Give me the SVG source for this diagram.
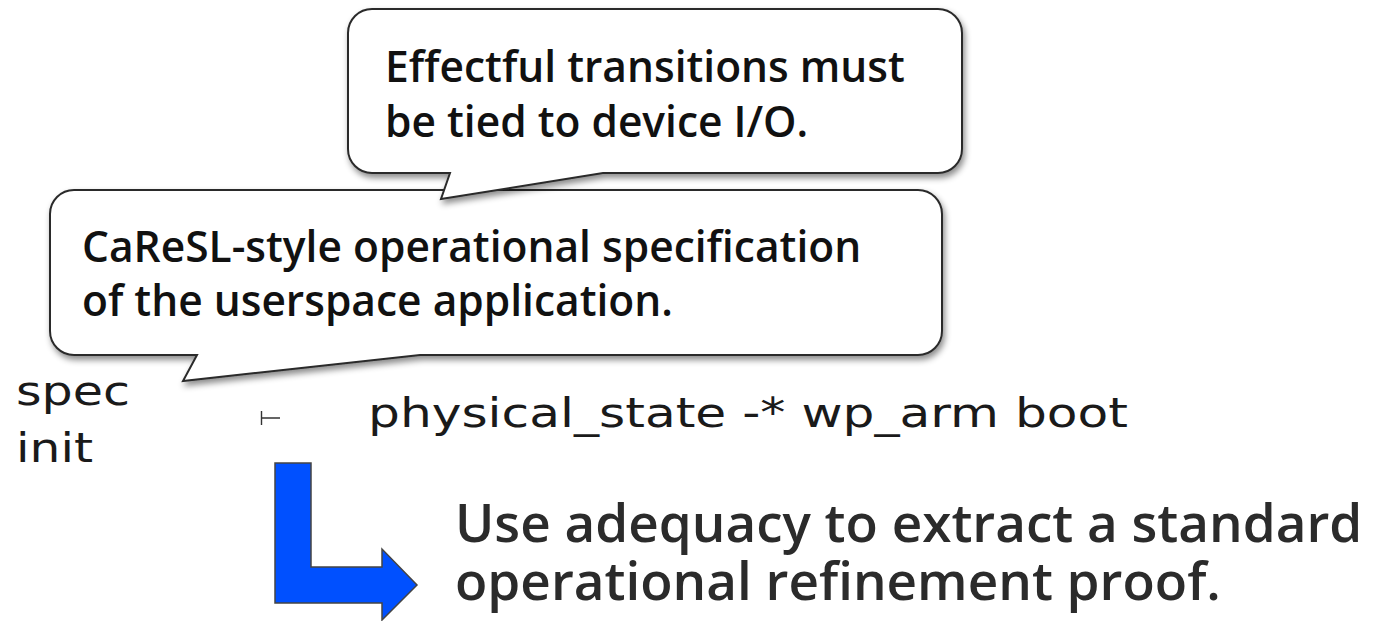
<svg xmlns="http://www.w3.org/2000/svg" width="1377" height="621" viewBox="0 0 1377 621">
<defs>
<filter id="sh" x="-10%" y="-10%" width="120%" height="130%">
<feDropShadow dx="2" dy="4" stdDeviation="3" flood-color="#000" flood-opacity="0.45"/>
</filter>
<style>
.callout{fill:#fff;stroke:#2a2a2a;stroke-width:2;filter:url(#sh)}
.ct{font-family:"Open Sans","Noto Sans",sans-serif;font-weight:600;font-size:42.5px;fill:#111}
.mono{font-family:"DejaVu Sans",sans-serif;font-size:40px;fill:#1a1a1a}
.big{font-family:"Open Sans","Noto Sans",sans-serif;font-weight:600;font-size:53px;fill:#2b2b2b}
</style>
</defs>
<g id="callout-caresl">
<path class="callout" d="M74,190 H918 A24,24 0 0 1 942,214 V331 A24,24 0 0 1 918,355 H420 L183,381 L197,355 H74 A24,24 0 0 1 50,331 V214 A24,24 0 0 1 74,190 Z"/>
<text class="ct" x="82" y="262">CaReSL-style operational specification</text>
<text class="ct" x="82" y="316">of the userspace application.</text>
</g>
<g id="callout-effectful">
<path class="callout" d="M372,9 H938 A24,24 0 0 1 962,33 V149 A24,24 0 0 1 938,173 H603 L441,199 L450,173 H372 A24,24 0 0 1 348,149 V33 A24,24 0 0 1 372,9 Z"/>
<text class="ct" x="385" y="82">Effectful transitions must</text>
<text class="ct" x="385" y="137">be tied to device I/O.</text>
</g>
<g id="spec-init">
<text class="mono" x="16" y="405" textLength="114" lengthAdjust="spacingAndGlyphs">spec</text>
<text class="mono" x="16" y="462" textLength="77" lengthAdjust="spacingAndGlyphs">init</text>
</g>
<g id="turnstile">
<path d="M261.5,411 V425 M261.5,418 H280" stroke="#333" stroke-width="1.4" fill="none"/>
</g>
<g id="judgement">
<text class="mono" x="368" y="427" textLength="760" lengthAdjust="spacingAndGlyphs">physical_state -* wp_arm boot</text>
</g>
<g id="connectors">
<polygon points="275,463 311,463 311,567 382,567 382,549 417,585 382,620 382,603 275,603" fill="#0050ff" stroke="#444" stroke-width="1.5"/>
</g>
<g id="adequacy">
<text class="big" x="455" y="542">Use adequacy to extract a standard</text>
<text class="big" x="455" y="600">operational refinement proof.</text>
</g>
</svg>
